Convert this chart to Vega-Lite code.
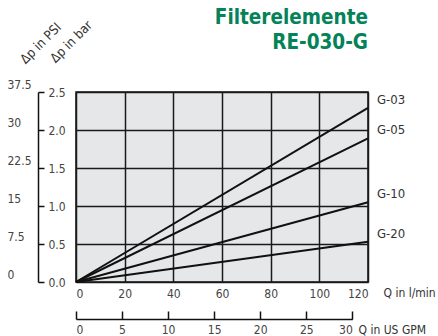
{
  "$schema": "https://vega.github.io/schema/vega-lite/v6.json",
  "width": 292,
  "height": 190,
  "autosize": {"type": "none"},
  "padding": {"left": 76, "top": 92, "right": 70, "bottom": 54},
  "background": "white",
  "title": {
    "text": ["Filterelemente", "RE-030-G"],
    "anchor": "end",
    "frame": "group",
    "font": "DejaVu Sans Condensed",
    "fontSize": 20.5,
    "fontWeight": "bold",
    "color": "#048258",
    "lineHeight": 25,
    "dy": 39
  },
  "data": {
    "values": [
      {"g": "G-03", "q": 0, "dp": 0},
      {"g": "G-03", "q": 120, "dp": 2.29},
      {"g": "G-05", "q": 0, "dp": 0},
      {"g": "G-05", "q": 120, "dp": 1.89},
      {"g": "G-10", "q": 0, "dp": 0},
      {"g": "G-10", "q": 120, "dp": 1.05},
      {"g": "G-20", "q": 0, "dp": 0},
      {"g": "G-20", "q": 120, "dp": 0.53}
    ]
  },
  "resolve": {"scale": {"x": "independent"}, "axis": {"x": "independent", "y": "independent"}},
  "layer": [
    {
      "mark": {"type": "line", "color": "#111", "strokeWidth": 2},
      "encoding": {
        "x": {
          "field": "q", "type": "quantitative",
          "scale": {"domain": [0, 120], "nice": false},
          "axis": {
            "orient": "bottom", "values": [0, 20, 40, 60, 80, 100, 120],
            "grid": true, "gridColor": "#1a1a1a", "gridWidth": 1.5,
            "ticks": false, "domain": false, "labelPadding": 6,
            "labelFont": "DejaVu Sans Condensed", "labelFontSize": 12, "labelColor": "#444",
            "title": "Q in l/min", "titleFont": "DejaVu Sans Condensed", "titleFontSize": 12,
            "titleFontWeight": "normal", "titleColor": "#333", "titleAlign": "left",
            "titleBaseline": "middle", "titleX": 307, "titleY": 10
          }
        },
        "y": {
          "field": "dp", "type": "quantitative",
          "scale": {"domain": [0, 2.5], "nice": false},
          "axis": {
            "orient": "right", "offset": -330, "values": [0, 0.5, 1, 1.5, 2, 2.5], "format": ".1f",
            "grid": true, "gridColor": "#1a1a1a", "gridWidth": 1.5,
            "domain": true, "domainColor": "#111", "domainWidth": 1.5,
            "ticks": true, "tickColor": "#111", "tickWidth": 1.5, "tickSize": 6,
            "labelPadding": 4,
            "labelFont": "DejaVu Sans Condensed", "labelFontSize": 12, "labelColor": "#444",
            "title": "Δp in bar", "titleFont": "DejaVu Sans Condensed", "titleFontSize": 13,
            "titleFontWeight": "normal", "titleColor": "#333", "titleAngle": -45,
            "titleAlign": "left", "titleBaseline": "alphabetic", "titleX": 17, "titleY": -29
          }
        },
        "detail": {"field": "g"}
      }
    },
    {
      "transform": [{"filter": "datum.q == 120"}],
      "mark": {"type": "text", "align": "left", "dx": 9, "dy": -8, "font": "DejaVu Sans Condensed", "fontSize": 13, "color": "#333"},
      "encoding": {
        "x": {"field": "q", "type": "quantitative", "scale": {"domain": [0, 120], "nice": false}, "axis": null},
        "y": {"field": "dp", "type": "quantitative", "axis": null},
        "text": {"field": "g"}
      }
    },
    {
      "mark": {"type": "point", "opacity": 0},
      "encoding": {
        "x": {"field": "q", "type": "quantitative", "scale": {"domain": [0, 120], "nice": false}, "axis": null},
        "y": {
          "field": "dp", "type": "quantitative",
          "axis": {
            "orient": "left", "values": [0, 0.5, 1, 1.5, 2, 2.5],
            "labelExpr": "format(datum.value * 15, '')",
            "grid": false, "domain": false, "ticks": false,
            "labelAlign": "left", "labelPadding": 69, "labelOffset": -8,
            "labelFont": "DejaVu Sans Condensed", "labelFontSize": 12, "labelColor": "#444",
            "title": "Δp in PSI", "titleFont": "DejaVu Sans Condensed", "titleFontSize": 13,
            "titleFontWeight": "normal", "titleColor": "#333", "titleAngle": -45,
            "titleAlign": "left", "titleBaseline": "alphabetic", "titleX": -51, "titleY": -28
          }
        }
      }
    },
    {
      "mark": {"type": "point", "opacity": 0},
      "encoding": {
        "x": {
          "field": "q", "type": "quantitative",
          "scale": {"domain": [0, 113.562], "range": [0, {"expr": "width * 113.562 / 120"}], "nice": false, "zero": false},
          "axis": {
            "orient": "bottom", "offset": 37,
            "values": [0, 18.927, 37.854, 56.781, 75.708, 94.635, 113.562],
            "labelExpr": "format(datum.value / 3.7854, '.0f')",
            "grid": false, "domain": true, "domainColor": "#111", "domainWidth": 1.5,
            "ticks": true, "tickColor": "#111", "tickWidth": 1.5, "tickSize": -8,
            "labelPadding": 13,
            "labelFont": "DejaVu Sans Condensed", "labelFontSize": 12, "labelColor": "#444",
            "title": "Q in US GPM", "titleFont": "DejaVu Sans Condensed", "titleFontSize": 12,
            "titleFontWeight": "normal", "titleColor": "#333", "titleAlign": "left",
            "titleBaseline": "middle", "titleX": 282, "titleY": 10
          }
        },
        "y": {"field": "dp", "type": "quantitative", "axis": null}
      }
    }
  ],
  "config": {
    "view": {"fill": "#e6e7e8", "stroke": "#111", "strokeWidth": 1.5}
  }
}
